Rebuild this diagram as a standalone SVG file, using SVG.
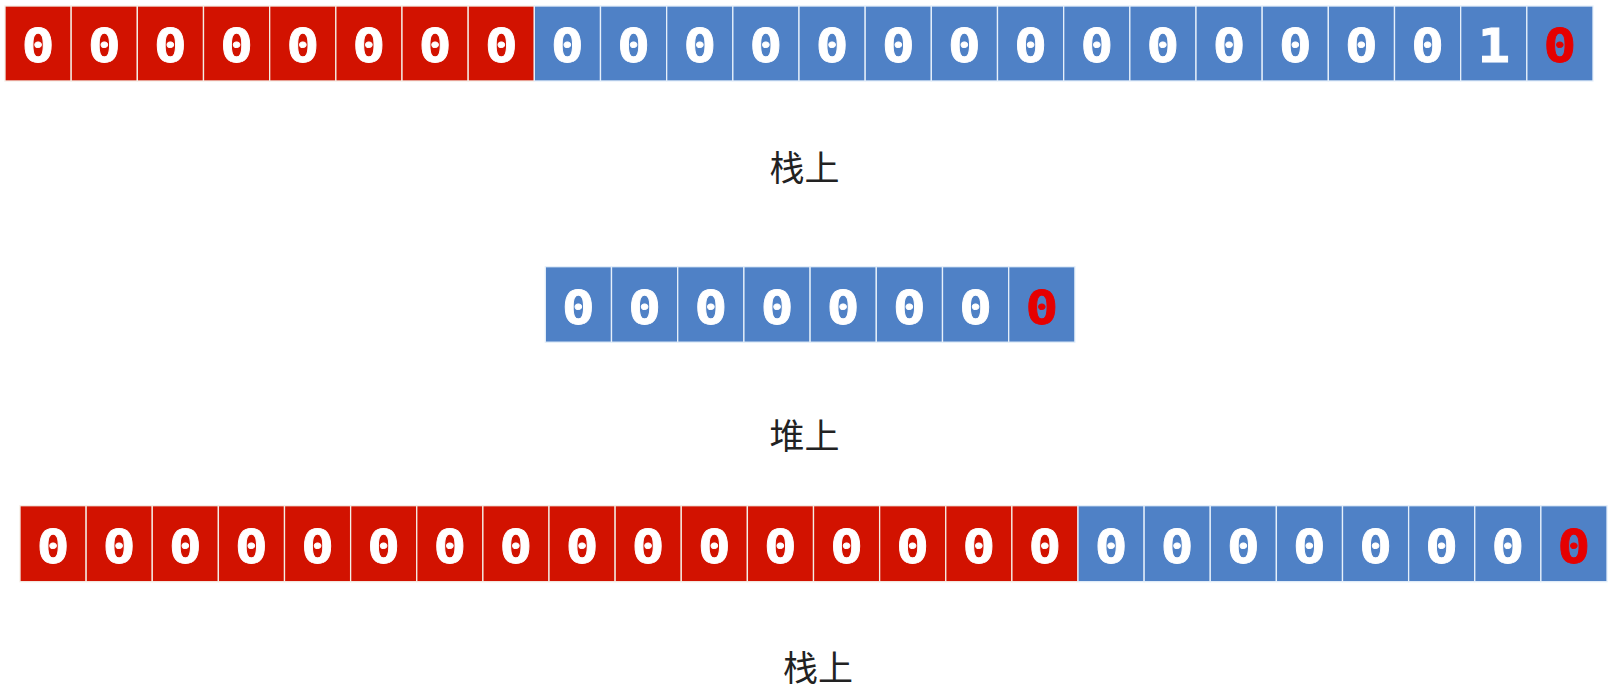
<svg xmlns="http://www.w3.org/2000/svg" width="1618" height="692" viewBox="0 0 1618 692">
<style>
.r{fill:#D21200;stroke:#F4EEE6;stroke-width:1.3}
.b{fill:#4F81C6;stroke:#E6F0FA;stroke-width:1.3}
.d{font-family:"DejaVu Sans Mono","Liberation Mono",monospace;font-weight:bold;font-size:46px;fill:#FFFFFF;text-anchor:middle;stroke:#FFFFFF;stroke-width:0.8;transform-box:fill-box;transform-origin:center;transform:scaleX(1.18)}
.dr{fill:#E60000;stroke:#E60000}
.lbl{font-family:"Noto Sans CJK SC","Noto Sans",sans-serif;font-size:35px;fill:#222222;text-anchor:middle}
</style>
<rect width="1618" height="692" fill="#FFFFFF"/>
<g id="row1">
<g id="r1c0" transform="translate(5,6)"><rect class="r" width="66.17" height="75"/><text class="d" x="33.08" y="56">0</text></g>
<g id="r1c1" transform="translate(71.17,6)"><rect class="r" width="66.17" height="75"/><text class="d" x="33.08" y="56">0</text></g>
<g id="r1c2" transform="translate(137.33,6)"><rect class="r" width="66.17" height="75"/><text class="d" x="33.08" y="56">0</text></g>
<g id="r1c3" transform="translate(203.5,6)"><rect class="r" width="66.17" height="75"/><text class="d" x="33.08" y="56">0</text></g>
<g id="r1c4" transform="translate(269.67,6)"><rect class="r" width="66.17" height="75"/><text class="d" x="33.08" y="56">0</text></g>
<g id="r1c5" transform="translate(335.83,6)"><rect class="r" width="66.17" height="75"/><text class="d" x="33.08" y="56">0</text></g>
<g id="r1c6" transform="translate(402,6)"><rect class="r" width="66.17" height="75"/><text class="d" x="33.08" y="56">0</text></g>
<g id="r1c7" transform="translate(468.17,6)"><rect class="r" width="66.17" height="75"/><text class="d" x="33.08" y="56">0</text></g>
<g id="r1c8" transform="translate(534.33,6)"><rect class="b" width="66.17" height="75"/><text class="d" x="33.08" y="56">0</text></g>
<g id="r1c9" transform="translate(600.5,6)"><rect class="b" width="66.17" height="75"/><text class="d" x="33.08" y="56">0</text></g>
<g id="r1c10" transform="translate(666.67,6)"><rect class="b" width="66.17" height="75"/><text class="d" x="33.08" y="56">0</text></g>
<g id="r1c11" transform="translate(732.83,6)"><rect class="b" width="66.17" height="75"/><text class="d" x="33.08" y="56">0</text></g>
<g id="r1c12" transform="translate(799,6)"><rect class="b" width="66.17" height="75"/><text class="d" x="33.08" y="56">0</text></g>
<g id="r1c13" transform="translate(865.17,6)"><rect class="b" width="66.17" height="75"/><text class="d" x="33.08" y="56">0</text></g>
<g id="r1c14" transform="translate(931.33,6)"><rect class="b" width="66.17" height="75"/><text class="d" x="33.08" y="56">0</text></g>
<g id="r1c15" transform="translate(997.5,6)"><rect class="b" width="66.17" height="75"/><text class="d" x="33.08" y="56">0</text></g>
<g id="r1c16" transform="translate(1063.67,6)"><rect class="b" width="66.17" height="75"/><text class="d" x="33.08" y="56">0</text></g>
<g id="r1c17" transform="translate(1129.83,6)"><rect class="b" width="66.17" height="75"/><text class="d" x="33.08" y="56">0</text></g>
<g id="r1c18" transform="translate(1196,6)"><rect class="b" width="66.17" height="75"/><text class="d" x="33.08" y="56">0</text></g>
<g id="r1c19" transform="translate(1262.17,6)"><rect class="b" width="66.17" height="75"/><text class="d" x="33.08" y="56">0</text></g>
<g id="r1c20" transform="translate(1328.33,6)"><rect class="b" width="66.17" height="75"/><text class="d" x="33.08" y="56">0</text></g>
<g id="r1c21" transform="translate(1394.5,6)"><rect class="b" width="66.17" height="75"/><text class="d" x="33.08" y="56">0</text></g>
<g id="r1c22" transform="translate(1460.67,6)"><rect class="b" width="66.17" height="75"/><text class="d" x="33.08" y="56">1</text></g>
<g id="r1c23" transform="translate(1526.83,6)"><rect class="b" width="66.17" height="75"/><text class="d dr" x="33.08" y="56">0</text></g>
</g>
<g id="label1"><text class="lbl" x="804.5" y="180.5">栈上</text></g>
<g id="row2">
<g id="r2c0" transform="translate(545.3,266.7)"><rect class="b" width="66.2" height="75.5"/><text class="d" x="33.1" y="57">0</text></g>
<g id="r2c1" transform="translate(611.5,266.7)"><rect class="b" width="66.2" height="75.5"/><text class="d" x="33.1" y="57">0</text></g>
<g id="r2c2" transform="translate(677.7,266.7)"><rect class="b" width="66.2" height="75.5"/><text class="d" x="33.1" y="57">0</text></g>
<g id="r2c3" transform="translate(743.9,266.7)"><rect class="b" width="66.2" height="75.5"/><text class="d" x="33.1" y="57">0</text></g>
<g id="r2c4" transform="translate(810.1,266.7)"><rect class="b" width="66.2" height="75.5"/><text class="d" x="33.1" y="57">0</text></g>
<g id="r2c5" transform="translate(876.3,266.7)"><rect class="b" width="66.2" height="75.5"/><text class="d" x="33.1" y="57">0</text></g>
<g id="r2c6" transform="translate(942.5,266.7)"><rect class="b" width="66.2" height="75.5"/><text class="d" x="33.1" y="57">0</text></g>
<g id="r2c7" transform="translate(1008.7,266.7)"><rect class="b" width="66.2" height="75.5"/><text class="d dr" x="33.1" y="57">0</text></g>
</g>
<g id="label2"><text class="lbl" x="804.5" y="449">堆上</text></g>
<g id="row3">
<g id="r3c0" transform="translate(20,505.7)"><rect class="r" width="66.13" height="76"/><text class="d" x="33.06" y="57">0</text></g>
<g id="r3c1" transform="translate(86.13,505.7)"><rect class="r" width="66.13" height="76"/><text class="d" x="33.06" y="57">0</text></g>
<g id="r3c2" transform="translate(152.25,505.7)"><rect class="r" width="66.13" height="76"/><text class="d" x="33.06" y="57">0</text></g>
<g id="r3c3" transform="translate(218.38,505.7)"><rect class="r" width="66.13" height="76"/><text class="d" x="33.06" y="57">0</text></g>
<g id="r3c4" transform="translate(284.5,505.7)"><rect class="r" width="66.13" height="76"/><text class="d" x="33.06" y="57">0</text></g>
<g id="r3c5" transform="translate(350.63,505.7)"><rect class="r" width="66.13" height="76"/><text class="d" x="33.06" y="57">0</text></g>
<g id="r3c6" transform="translate(416.75,505.7)"><rect class="r" width="66.13" height="76"/><text class="d" x="33.06" y="57">0</text></g>
<g id="r3c7" transform="translate(482.88,505.7)"><rect class="r" width="66.13" height="76"/><text class="d" x="33.06" y="57">0</text></g>
<g id="r3c8" transform="translate(549,505.7)"><rect class="r" width="66.13" height="76"/><text class="d" x="33.06" y="57">0</text></g>
<g id="r3c9" transform="translate(615.13,505.7)"><rect class="r" width="66.13" height="76"/><text class="d" x="33.06" y="57">0</text></g>
<g id="r3c10" transform="translate(681.25,505.7)"><rect class="r" width="66.13" height="76"/><text class="d" x="33.06" y="57">0</text></g>
<g id="r3c11" transform="translate(747.38,505.7)"><rect class="r" width="66.13" height="76"/><text class="d" x="33.06" y="57">0</text></g>
<g id="r3c12" transform="translate(813.5,505.7)"><rect class="r" width="66.13" height="76"/><text class="d" x="33.06" y="57">0</text></g>
<g id="r3c13" transform="translate(879.63,505.7)"><rect class="r" width="66.13" height="76"/><text class="d" x="33.06" y="57">0</text></g>
<g id="r3c14" transform="translate(945.75,505.7)"><rect class="r" width="66.13" height="76"/><text class="d" x="33.06" y="57">0</text></g>
<g id="r3c15" transform="translate(1011.88,505.7)"><rect class="r" width="66.13" height="76"/><text class="d" x="33.06" y="57">0</text></g>
<g id="r3c16" transform="translate(1078,505.7)"><rect class="b" width="66.13" height="76"/><text class="d" x="33.06" y="57">0</text></g>
<g id="r3c17" transform="translate(1144.13,505.7)"><rect class="b" width="66.13" height="76"/><text class="d" x="33.06" y="57">0</text></g>
<g id="r3c18" transform="translate(1210.25,505.7)"><rect class="b" width="66.13" height="76"/><text class="d" x="33.06" y="57">0</text></g>
<g id="r3c19" transform="translate(1276.38,505.7)"><rect class="b" width="66.13" height="76"/><text class="d" x="33.06" y="57">0</text></g>
<g id="r3c20" transform="translate(1342.5,505.7)"><rect class="b" width="66.13" height="76"/><text class="d" x="33.06" y="57">0</text></g>
<g id="r3c21" transform="translate(1408.63,505.7)"><rect class="b" width="66.13" height="76"/><text class="d" x="33.06" y="57">0</text></g>
<g id="r3c22" transform="translate(1474.75,505.7)"><rect class="b" width="66.13" height="76"/><text class="d" x="33.06" y="57">0</text></g>
<g id="r3c23" transform="translate(1540.88,505.7)"><rect class="b" width="66.13" height="76"/><text class="d dr" x="33.06" y="57">0</text></g>
</g>
<g id="label3"><text class="lbl" x="818" y="680.5">栈上</text></g>
<g id="connectors"/>
</svg>
